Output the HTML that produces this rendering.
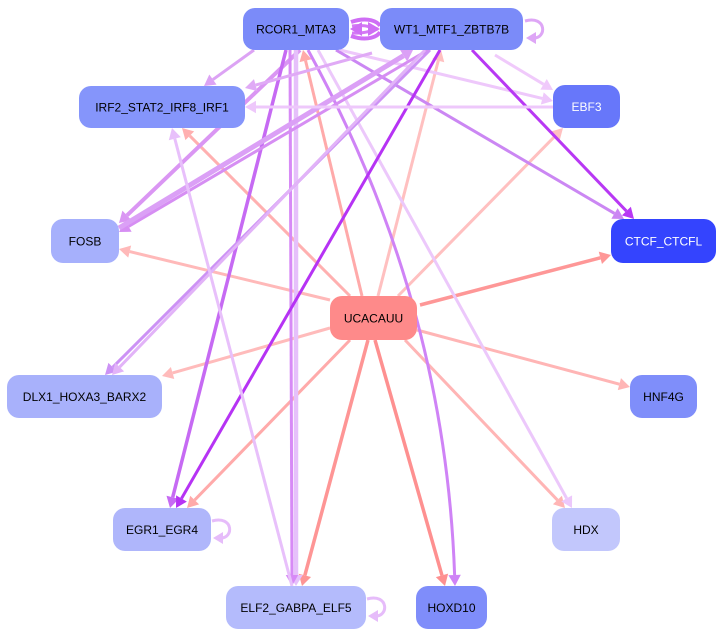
<!DOCTYPE html>
<html><head><meta charset="utf-8"><style>
html,body{margin:0;padding:0;background:#fff;width:723px;height:638px;overflow:hidden}
svg{display:block}
text{font-family:"Liberation Sans",sans-serif;font-size:12px}
</style></head><body>
<svg id="s" width="723" height="638" xmlns="http://www.w3.org/2000/svg">
<g id="e"></g><g id="n"></g>
</svg>
<script>
var N={
RC:[243,8,106,42,'#7b8bf9','RCOR1_MTA3','#000'],
WT:[380,8,143,42,'#7b8bf9','WT1_MTF1_ZBTB7B','#000'],
IR:[79,86,166,42,'#8595fb','IRF2_STAT2_IRF8_IRF1','#000'],
EB:[553,85,67,43,'#6777fa','EBF3','#fff'],
FO:[51,219,68,44,'#a6b0fc','FOSB','#000'],
CT:[611,219,105,44,'#3444fe','CTCF_CTCFL','#fff'],
UC:[330,296,87,44,'#fe8a8a','UCACAUU','#000'],
DL:[7,375,155,43,'#a8b1fb','DLX1_HOXA3_BARX2','#000'],
HN:[630,375,67,43,'#7f8efa','HNF4G','#000'],
EG:[113,508,98,43,'#afb6fb','EGR1_EGR4','#000'],
HD:[552,508,68,43,'#c2c7fc','HDX','#000'],
EL:[226,586,140,43,'#b4bbfc','ELF2_GABPA_ELF5','#000'],
HO:[416,586,71,43,'#7f8dfa','HOXD10','#000']};
var E=[
['UC','CT','#fe9797',3.5,[420,305],[611,255]],
['UC','FO','#ffb9b9',3,[330,300],[119,249]],
['UC','IR','#ffb0b0',3,[350,296],[182,128]],
['UC','RC','#ffaaaa',3,[362,296],[303,50]],
['UC','WT','#ffc0c0',3,[378,296],[441,50]],
['UC','EB','#ffc0c0',3,[398,296],[563,128]],
['UC','DL','#ffbbbb',3,[330,328],[162,376]],
['UC','HN','#ffb5b5',3,[417,330],[630,387]],
['UC','EG','#ffaaaa',3,[350,340],[187,508]],
['UC','HD','#ffb5b5',3,[405,340],[565,508]],
['UC','EL','#fe9595',3.5,[368,340],[302,586]],
['UC','HO','#fe9090',3.5,[375,340],[445,586]],
['RC','IR','#dca3f4',3,[254,50],[204,86]],
['RC','EB','#eec8fb',3,[340,50],[553,101]],
['RC','CT','#cb87f3',3,[336,50],[624,219]],
['RC','FO','#da96f3',4,[300,50],[119,223]],
['RC','EG','#c66af3',3.5,[286,50],[170,508]],
['RC','EL','#e6c0fb',4.5,[296,50],[296,586]],
['RC','EL','#d78af6',3,[290,50],[292,586]],
['RC','HD','#ecc8fb',3,[318,50],[572,508]],
['RC','HO','#cf83f6',3,[308,50],[455,586],[445,300]],
['WT','IR','#e0aaf6',3,[372,53],[245,88]],
['WT','EB','#f0cafb',3,[495,55],[553,90]],
['WT','CT','#b838f4',3,[472,50],[634,219]],
['WT','FO','#d68ef3',3,[428,50],[119,232]],
['WT','DL','#cc92f5',3,[430,50],[105,375]],
['WT','DL','#e2b3f8',3,[425,50],[112,375]],
['WT','EG','#b633f4',3,[440,50],[176,508]],
['FO','WT','#dba0f6',5,[119,228],[413,50]],
['EB','IR','#eec8fb',3,[553,107],[245,107]],
['EL','IR','#e8c0fb',3,[292,586],[172,128]],
];
var g=document.getElementById('e'),ns='http://www.w3.org/2000/svg';
function el(t,a,p){var x=document.createElementNS(ns,t);for(var k in a)x.setAttribute(k,a[k]);p.appendChild(x);return x}
E.forEach(function(d){var a=d[4],b=d[5],c=d[6];var sx=c?c[0]:a[0],sy=c?c[1]:a[1];
var dx=b[0]-sx,dy=b[1]-sy,L=Math.hypot(dx,dy),ux=dx/L,uy=dy/L,h=11,w=5+d[3]*0.4;
var ex=b[0]-ux*h,ey=b[1]-uy*h;
if(c)el('path',{d:'M'+a[0]+','+a[1]+' Q'+c[0]+','+c[1]+' '+ex+','+ey,fill:'none',stroke:d[2],'stroke-width':d[3]},g);
else el('line',{x1:a[0],y1:a[1],x2:ex,y2:ey,stroke:d[2],'stroke-width':d[3]},g);
el('polygon',{points:b[0]+','+b[1]+' '+(ex-uy*w)+','+(ey+ux*w)+' '+(ex+uy*w)+','+(ey-ux*w),fill:d[2]},g)});
function loop(x,y,c,w){el('path',{d:'M'+x+','+(y-8)+' C'+(x+22)+','+(y-14)+' '+(x+22)+','+(y+10)+' '+(x+8)+','+(y+9),fill:'none',stroke:c,'stroke-width':w},g);
el('polygon',{points:(x+1)+','+(y+9)+' '+(x+11)+','+(y+3)+' '+(x+11)+','+(y+15),fill:c},g)}
loop(525,29,'#dea6f6',3);loop(212,529,'#e6bcfa',3);loop(367,607,'#e6bcfa',3);
el('path',{d:'M351,22 C368,16 378,22 380,26',fill:'none',stroke:'#cf6ef5','stroke-width':4},g);
el('path',{d:'M351,36 C368,42 378,36 380,32',fill:'none',stroke:'#cf6ef5','stroke-width':4},g);
el('path',{d:'M352,26 C365,24 372,28 378,29 C372,30 365,34 352,33',fill:'none',stroke:'#d478f5','stroke-width':3},g);
el('polygon',{points:'350,29 362,22 362,36',fill:'#cf6ef5'},g);
el('polygon',{points:'380,29 368,22 368,36',fill:'#cf6ef5'},g);
var n=document.getElementById('n');
for(var k in N){var v=N[k];el('rect',{x:v[0],y:v[1],width:v[2],height:v[3],rx:12,fill:v[4]},n);
var t=el('text',{x:v[0]+v[2]/2,y:v[1]+v[3]/2+4.5,'text-anchor':'middle',fill:v[6]},n);t.textContent=v[5];}
</script>
</body></html>
